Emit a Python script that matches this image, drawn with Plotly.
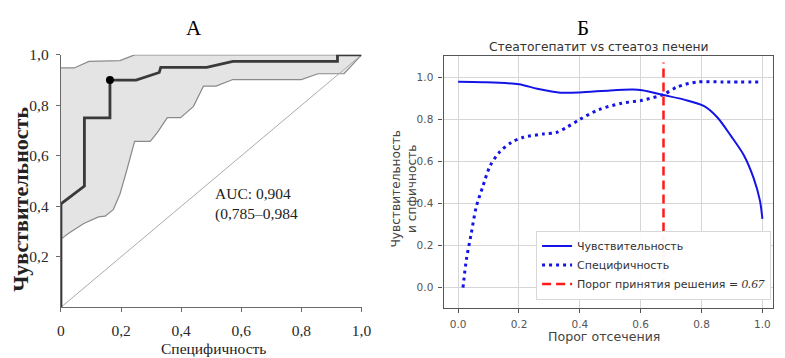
import plotly.graph_objects as go

# ---------- Panel A: ROC curve ----------
roc_fpr = [0, 0, 0.078, 0.078, 0.163, 0.163, 0.25, 0.327, 0.332, 0.485, 0.572, 0.92, 0.92, 1.0]
roc_tpr = [0, 0.41, 0.48, 0.75, 0.75, 0.90, 0.90, 0.93, 0.95, 0.95, 0.974, 0.974, 1.0, 1.0]
opt_fpr = [0.163]
opt_tpr = [0.90]
band_upper_fpr = [0, 0.044, 0.093, 0.196, 0.245, 1.0]
band_upper_tpr = [0.948, 0.948, 0.974, 0.977, 1.0, 1.0]
band_lower_fpr = [0, 0.027, 0.076, 0.125, 0.147, 0.174, 0.196, 0.218, 0.245, 0.297, 0.321,
                  0.354, 0.398, 0.441, 0.474, 0.516, 0.572, 0.80, 0.855, 0.942, 1.0]
band_lower_tpr = [0.27, 0.294, 0.332, 0.358, 0.361, 0.387, 0.448, 0.539, 0.657, 0.657, 0.693,
                  0.751, 0.751, 0.796, 0.876, 0.876, 0.902, 0.902, 0.925, 0.925, 1.0]
a_ticks = [0, 0.2, 0.4, 0.6, 0.8, 1.0]
a_xticklabels = ["0", "0,2", "0,4", "0,6", "0,8", "1,0"]
a_yticks = [0.2, 0.4, 0.6, 0.8, 1.0]
a_yticklabels = ["0,2", "0,4", "0,6", "0,8", "1,0"]
auc_text = "AUC: 0,904<br>(0,785–0,984"

# ---------- Panel Б: sensitivity / specificity vs threshold ----------
sens_thr = [0.0, 0.08, 0.2, 0.26, 0.337, 0.4, 0.5, 0.573, 0.605, 0.675, 0.745, 0.81, 0.853,
            0.896, 0.939, 0.971, 0.992, 1.0]
sens_val = [0.978, 0.976, 0.966, 0.945, 0.926, 0.927, 0.937, 0.941, 0.938, 0.915, 0.892, 0.861,
            0.807, 0.722, 0.629, 0.521, 0.413, 0.326]
spec_thr = [0.016, 0.027, 0.043, 0.059, 0.081, 0.105, 0.137, 0.175, 0.215, 0.28, 0.323, 0.355,
            0.401, 0.463, 0.538, 0.605, 0.675, 0.721, 0.786, 0.87, 1.0]
spec_val = [0.0, 0.132, 0.256, 0.38, 0.48, 0.578, 0.645, 0.69, 0.714, 0.73, 0.737, 0.76,
            0.80, 0.846, 0.876, 0.89, 0.918, 0.954, 0.977, 0.977, 0.977]
threshold = 0.675
threshold_y = [0.0, 1.07]
b_ticks = [0.0, 0.2, 0.4, 0.6, 0.8, 1.0]

W, H = 785, 358
def px_x(p):
    return p / W
def px_y(p):
    return 1 - p / H

fig = go.Figure()

band_x = band_upper_fpr + band_lower_fpr[::-1]
band_y = band_upper_tpr + band_lower_tpr[::-1]
fig.add_trace(go.Scatter(x=band_x, y=band_y, mode="lines", fill="toself",
                         fillcolor="#e4e4e4", line=dict(color="#8a8a8a", width=1.2),
                         showlegend=False, hoverinfo="skip", xaxis="x", yaxis="y"))
fig.add_trace(go.Scatter(x=[0, 1], y=[0, 1], mode="lines",
                         line=dict(color="#ababab", width=1), showlegend=False,
                         xaxis="x", yaxis="y"))
fig.add_trace(go.Scatter(x=roc_fpr, y=roc_tpr, mode="lines",
                         line=dict(color="#3a3a3a", width=2.8), showlegend=False,
                         xaxis="x", yaxis="y"))
fig.add_trace(go.Scatter(x=opt_fpr, y=opt_tpr, mode="markers",
                         marker=dict(color="black", size=8), showlegend=False,
                         xaxis="x", yaxis="y"))

blue = "#1414e6"
fig.add_trace(go.Scatter(x=sens_thr, y=sens_val, mode="lines", name="Чувствительность",
                         line=dict(color=blue, width=2, shape="spline", smoothing=0.8),
                         xaxis="x2", yaxis="y2"))
fig.add_trace(go.Scatter(x=spec_thr, y=spec_val, mode="lines", name="Специфичность",
                         line=dict(color=blue, width=3, dash="3px,4px", shape="spline", smoothing=0.8),
                         xaxis="x2", yaxis="y2"))
fig.add_trace(go.Scatter(x=[threshold, threshold], y=threshold_y, mode="lines",
                         name="Порог принятия решения = <span style='font-family:Liberation Serif;font-size:13px'><i>0.67</i></span>",
                         line=dict(color="#ff1a1a", width=2.5, dash="9px,5px"),
                         xaxis="x2", yaxis="y2"))

serif = "Liberation Serif"
sans = "DejaVu Sans"

fig.update_layout(
    width=W, height=H, margin=dict(l=0, r=0, t=0, b=0),
    paper_bgcolor="white", plot_bgcolor="rgba(0,0,0,0)",
    xaxis=dict(domain=[px_x(58), px_x(364)], range=[0, 1], showgrid=False, zeroline=False,
               showline=True, linecolor="#6a6a6a", linewidth=1.3, ticks="outside", ticklen=4,
               tickcolor="#6a6a6a", tickvals=a_ticks, ticktext=a_xticklabels,
               tickfont=dict(family=serif, size=15.5, color="#2a2a2a"), ticklabelstandoff=5),
    yaxis=dict(domain=[px_y(306), px_y(47)], range=[0, 1], showgrid=False, zeroline=False,
               showline=True, linecolor="#6a6a6a", linewidth=1.3, ticks="outside", ticklen=4,
               tickcolor="#6a6a6a", tickvals=a_yticks, ticktext=a_yticklabels,
               tickfont=dict(family=serif, size=15.5, color="#2a2a2a"), ticklabelstandoff=4),
    xaxis2=dict(domain=[px_x(447.5), px_x(783)], range=[-0.048, 1.035], showgrid=True,
                gridcolor="#d6d6d6", gridwidth=1, zeroline=False, showline=True, mirror=True,
                linecolor="#555555", linewidth=1.2, ticks="outside", ticklen=4, tickcolor="#555555",
                tickvals=b_ticks, tickformat=".1f",
                tickfont=dict(family=sans, size=10.5, color="#555555"), ticklabelstandoff=2,
                anchor="y2"),
    yaxis2=dict(domain=[px_y(306.7), px_y(48.3)], range=[-0.097, 1.10], showgrid=True,
                gridcolor="#d6d6d6", gridwidth=1, zeroline=False, showline=True, mirror=True,
                linecolor="#555555", linewidth=1.2, ticks="outside", ticklen=4, tickcolor="#555555",
                tickvals=b_ticks, tickformat=".1f",
                tickfont=dict(family=sans, size=10.5, color="#555555"), ticklabelstandoff=3,
                anchor="x2"),
    legend=dict(x=px_x(781), y=px_y(298), xanchor="right", yanchor="bottom",
                bgcolor="rgba(255,255,255,0.95)", bordercolor="#d8d8d8", borderwidth=1,
                font=dict(family=sans, size=11, color="#333333"), tracegroupgap=0,
                itemwidth=30),
    showlegend=True,
)

def ann(text, x, y, font, **kw):
    d = dict(text=text, x=x, y=y, xref="paper", yref="paper", showarrow=False,
             xanchor="center", yanchor="middle", font=font)
    d.update(kw)
    return d

annotations = [
    ann("А", px_x(193), px_y(20), dict(family=serif, size=21, color="black")),
    ann("<b>Чувствительность</b>", px_x(16), px_y(195),
        dict(family=serif, size=22, color="#222222"), textangle=-90),
    ann("Специфичность", px_x(213), px_y(348), dict(family=serif, size=15.5, color="#222222")),
    dict(text=auc_text, x=0.507, y=0.41, xref="x", yref="y", showarrow=False, align="left",
         xanchor="left", yanchor="middle", font=dict(family=serif, size=15.5, color="#222222")),
    ann("Б", px_x(590), px_y(20), dict(family=serif, size=21, color="black")),
    ann("Стеатогепатит vs стеатоз печени", px_x(606), px_y(39),
        dict(family=sans, size=12.3, color="#333333")),
    ann("Порог отсечения", px_x(611), px_y(336), dict(family=sans, size=12.6, color="#444444")),
    ann("Чувствительность<br>и спфичность", px_x(407.5), px_y(184),
        dict(family=sans, size=12.2, color="#444444"), textangle=-90, align="center"),
]
fig.update_layout(annotations=annotations)

fig.write_html("out.html", config={"displayModeBar": False},
               post_script="document.body.style.margin='0';document.body.style.overflow='hidden';")
